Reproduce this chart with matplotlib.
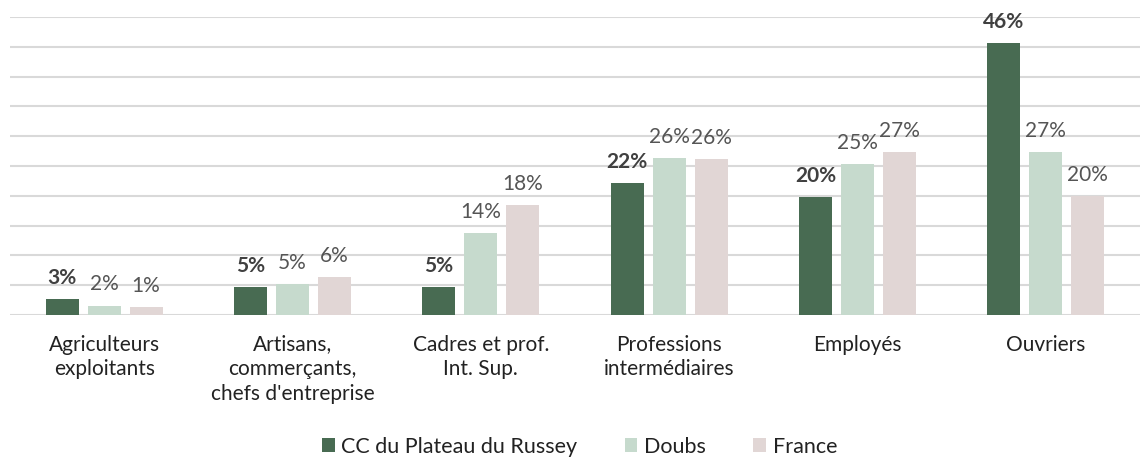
import matplotlib
matplotlib.use('Agg')
import matplotlib.pyplot as plt
import numpy as np

categories = ["Agriculteurs\nexploitants", "Artisans,\ncommerçants,\nchefs d'entreprise",
              "Cadres et prof.\nInt. Sup.", "Professions\nintermédiaires", "Employés", "Ouvriers"]
series_names = ["CC du Plateau du Russey", "Doubs", "France"]
russey = [2.7, 4.7, 4.7, 22.1, 19.8, 45.6]
doubs = [1.6, 5.2, 13.8, 26.3, 25.3, 27.3]
france = [1.3, 6.4, 18.4, 26.2, 27.3, 20.0]

colors = ['#486b52', '#c6dacd', '#e1d6d5']
plt.rcParams['font.family'] = ['Lato', 'DejaVu Sans']

fig = plt.figure(figsize=(11.45, 4.62), dpi=100)
ax = fig.add_axes([0.0087, 0.318, 0.987, 0.645])

x = np.arange(len(categories))
width = 0.175
offset = 0.223
for i, (vals, name) in enumerate(zip([russey, doubs, france], series_names)):
    pos = x + (i - 1) * offset
    bars = ax.bar(pos, vals, width, color=colors[i], label=name, zorder=3)
    for b, v in zip(bars, vals):
        ax.annotate(f"{v:.0f}%", (b.get_x() + b.get_width() / 2, v),
                    xytext=(0, 8), textcoords='offset points', ha='center', va='bottom',
                    fontsize=15, color='#404040' if i == 0 else '#555555',
                    fontweight='bold' if i == 0 else 'normal')

ax.set_xlim(-0.5, len(categories) - 0.5)
ax.set_ylim(0, 50)
ax.set_yticks(np.arange(0, 51, 5))
ax.yaxis.grid(True, color='#d9d9d9', linewidth=1.5, zorder=0)
ax.set_yticklabels([])
ax.tick_params(axis='y', length=0)
ax.tick_params(axis='x', length=0, pad=14)
ax.set_xticks(x)
ax.set_xticklabels(categories, fontsize=15, color='#222222', linespacing=1.3)
for s in ax.spines.values():
    s.set_visible(False)

fig.legend(loc='center', bbox_to_anchor=(0.506, 0.033), ncol=3, frameon=False,
           fontsize=15.5, handlelength=0.6, handleheight=0.6, handletextpad=0.3,
           columnspacing=2.2, labelcolor='#222222')

plt.savefig('out.png', dpi=100)
plt.close()
